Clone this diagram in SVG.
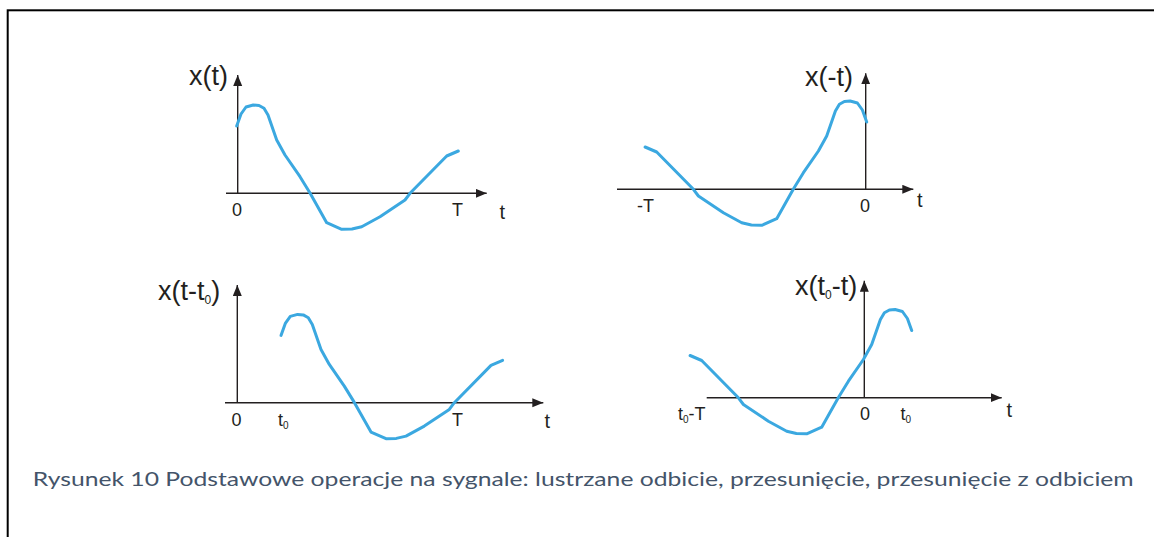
<svg xmlns="http://www.w3.org/2000/svg" xmlns:xlink="http://www.w3.org/1999/xlink" width="1154" height="537" viewBox="0 0 1154 537">
<style>
.ax{stroke:#231f20;stroke-width:1.4;fill:none}
.sig{stroke:#3ba8e0;stroke-width:3;fill:none;stroke-linejoin:round;stroke-linecap:round}
.lbl{font-family:"Liberation Sans",Arial,sans-serif;font-size:27px;fill:#231f20}
.tk{font-family:"Liberation Sans",Arial,sans-serif;font-size:18px;fill:#231f20}
.tt{font-family:"Liberation Sans",Arial,sans-serif;font-size:20px;fill:#231f20}
.cap{font-family:Lato,"Open Sans",sans-serif;font-size:20px;fill:#44546a}
</style>
<defs>
<marker id="arr" markerUnits="userSpaceOnUse" markerWidth="12" markerHeight="10" refX="11" refY="4.5" orient="auto">
<path d="M0,0 L11,4.5 L0,9 z" fill="#231f20"/>
</marker>
<path id="c1" d="M236.7,126 L241,114 L246,107 L253.3,105 L259,105.5 L264,108.3 L268,115 L276.7,140 L285,155 L300,176.7 L310,193 L326.7,222.7 L341.7,229.3 L352,229 L361.7,226.7 L380,216.7 L405,200 L410,193.3 L446.7,156 L458.3,151"/>
</defs>
<rect x="7.7" y="10.3" width="1200" height="600" fill="none" stroke="#000" stroke-width="2"/>
<g id="graph1">
<line class="ax" x1="237.7" y1="193.3" x2="237.7" y2="75" marker-end="url(#arr)"/>
<line class="ax" x1="226" y1="193.3" x2="486.7" y2="193.3" marker-end="url(#arr)"/>
<use xlink:href="#c1" class="sig"/>
<text class="lbl" x="189" y="85">x(t)</text>
<text class="tk" x="232" y="215.7">0</text>
<text class="tk" x="452" y="215.7">T</text>
<text class="tt" x="499.5" y="219">t</text>
</g>
<g id="graph2">
<line class="ax" x1="865.7" y1="189.3" x2="865.7" y2="73.3" marker-end="url(#arr)"/>
<line class="ax" x1="617" y1="189.3" x2="913.3" y2="189.3" marker-end="url(#arr)"/>
<use xlink:href="#c1" class="sig" transform="translate(1103.4,-4) scale(-1,1)"/>
<text class="lbl" x="805" y="86">x(-t)</text>
<text class="tk" x="637" y="212.3">-T</text>
<text class="tk" x="860" y="212.3">0</text>
<text class="tt" x="917" y="206.7">t</text>
</g>
<g id="graph3">
<line class="ax" x1="237.3" y1="402.7" x2="237.3" y2="285" marker-end="url(#arr)"/>
<line class="ax" x1="225" y1="402.7" x2="543.3" y2="402.7" marker-end="url(#arr)"/>
<use xlink:href="#c1" class="sig" transform="translate(44.3,209.4)"/>
<text class="lbl" x="158" y="300">x(t-t<tspan font-size="12" dy="4">0</tspan><tspan dy="-4">)</tspan></text>
<text class="tk" x="231.5" y="425.7">0</text>
<text class="tk" x="278" y="425.7">t<tspan font-size="10" dy="3">0</tspan></text>
<text class="tk" x="452" y="425.7">T</text>
<text class="tt" x="544.5" y="428.3">t</text>
</g>
<g id="graph4">
<line class="ax" x1="864.3" y1="397.7" x2="864.3" y2="280.7" marker-end="url(#arr)"/>
<line class="ax" x1="706.7" y1="397.7" x2="1001.7" y2="397.7" marker-end="url(#arr)"/>
<use xlink:href="#c1" class="sig" transform="translate(1148.4,204.5) scale(-1,1)"/>
<text class="lbl" x="795" y="295">x(t<tspan font-size="12" dy="4">0</tspan><tspan dy="-4">-t)</tspan></text>
<text class="tk" x="678" y="420">t<tspan font-size="10" dy="3">0</tspan><tspan dy="-3">-T</tspan></text>
<text class="tk" x="860" y="420">0</text>
<text class="tk" x="900.5" y="420">t<tspan font-size="10" dy="3">0</tspan></text>
<text class="tt" x="1006.5" y="417.3">t</text>
</g>
<text class="cap" x="32.7" y="485.7" textLength="1101" lengthAdjust="spacingAndGlyphs">Rysunek 10 Podstawowe operacje na sygnale: lustrzane odbicie, przesunięcie, przesunięcie z odbiciem</text>
</svg>
